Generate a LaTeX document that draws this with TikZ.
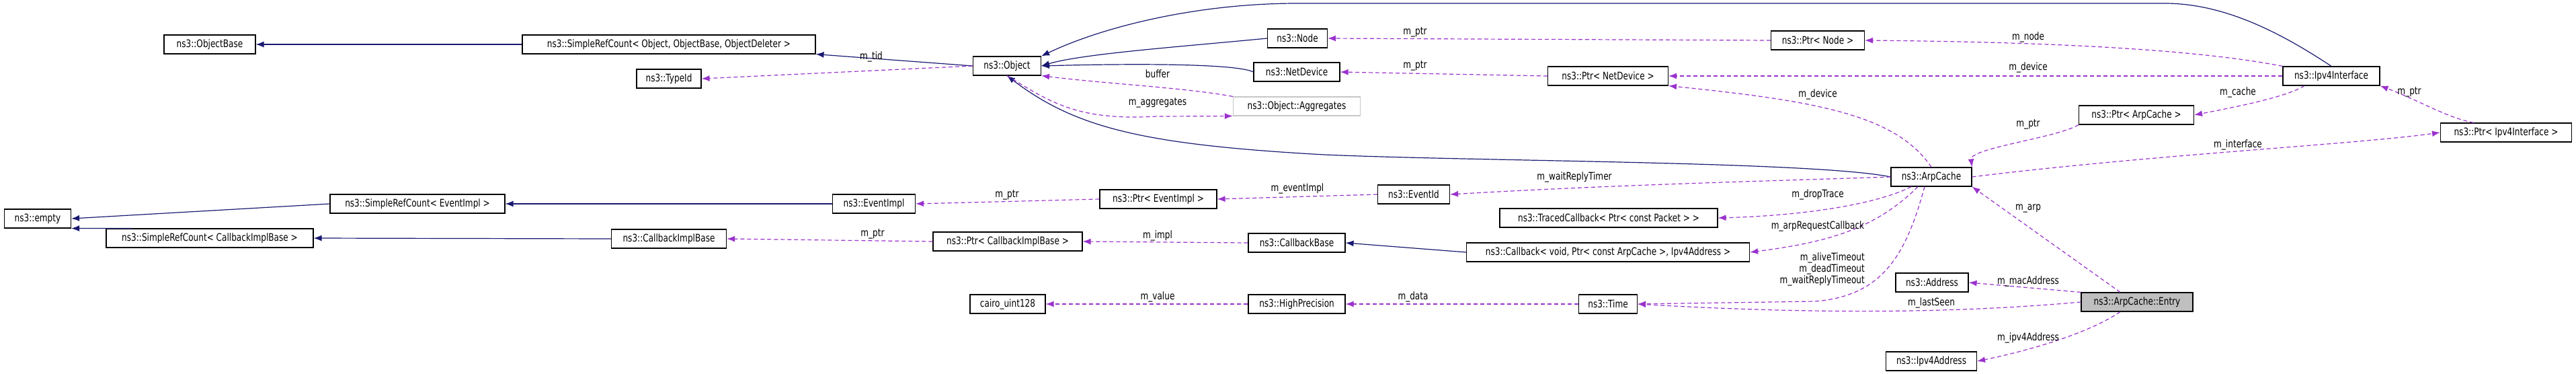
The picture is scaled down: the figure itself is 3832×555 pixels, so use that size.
\documentclass[tikz,border=0pt]{standalone}
\usepackage{fontspec}
\setmainfont{DejaVu Sans}[FakeStretch=0.78]
\usetikzlibrary{arrows.meta}
\definecolor{inh}{HTML}{191970}
\definecolor{use}{HTML}{9A32CD}
\begin{document}
\begin{tikzpicture}[x=1pt,y=-1pt,
  box/.style={draw=black,line width=1.1pt,fill=white,inner sep=0pt,minimum height=28pt,font=\fontsize{15.5}{17}\selectfont},
  gbox/.style={box,draw=black!22},
  inhe/.style={draw=inh,line width=1.2pt,-{Latex[length=12pt,width=9pt]}},
  usee/.style={draw=use,line width=1.2pt,dash pattern=on 6pt off 4pt,-{Latex[length=12pt,width=9pt]}},
  lab/.style={font=\fontsize{15.5}{17}\selectfont,inner sep=1pt}]
\useasboundingbox (0,0) rectangle (3832,555);
\node[box,minimum width=136pt] (ob) at (312,66) {ns3::ObjectBase};
\node[box,minimum width=436pt] (src) at (995,66) {ns3::SimpleRefCount< Object, ObjectBase, ObjectDeleter >};
\node[box,minimum width=96pt] (tid) at (995,117) {ns3::TypeId};
\node[box,minimum width=101pt] (obj) at (1498,98) {ns3::Object};
\node[box,minimum width=89pt] (node) at (1930,57) {ns3::Node};
\node[box,minimum width=128pt] (nd) at (1929,107) {ns3::NetDevice};
\node[gbox,minimum width=189pt] (agg) at (1929,158) {ns3::Object::Aggregates};
\node[box,minimum width=179pt] (pnd) at (2392,113) {ns3::Ptr< NetDevice >};
\node[box,minimum width=139pt] (pnode) at (2704,60) {ns3::Ptr< Node >};
\node[box,minimum width=144pt] (ipif) at (3468,113) {ns3::Ipv4Interface};
\node[box,minimum width=171pt] (pac) at (3178,171) {ns3::Ptr< ArpCache >};
\node[box,minimum width=195pt] (pipif) at (3728,197) {ns3::Ptr< Ipv4Interface >};
\node[box,minimum width=120pt] (ac) at (2873,263) {ns3::ArpCache};
\node[box,minimum width=99pt] (empty) at (56,325) {ns3::empty};
\node[box,minimum width=260pt] (srce) at (621,303) {ns3::SimpleRefCount< EventImpl >};
\node[box,minimum width=308pt] (srcc) at (312,354) {ns3::SimpleRefCount< CallbackImplBase >};
\node[box,minimum width=123pt] (ei) at (1300,303) {ns3::EventImpl};
\node[box,minimum width=171pt] (cib) at (995,355) {ns3::CallbackImplBase};
\node[box,minimum width=174pt] (pei) at (1723,296) {ns3::Ptr< EventImpl >};
\node[box,minimum width=107pt] (eid) at (2103,289) {ns3::EventId};
\node[box,minimum width=324pt] (tc) at (2393,324) {ns3::TracedCallback< Ptr< const Packet > >};
\node[box,minimum width=222pt] (pcib) at (1499,359) {ns3::Ptr< CallbackImplBase >};
\node[box,minimum width=144pt] (cb) at (1929,361) {ns3::CallbackBase};
\node[box,minimum width=421pt] (cbv) at (2392,375) {ns3::Callback< void, Ptr< const ArpCache >, Ipv4Address >};
\node[box,minimum width=112pt] (cairo) at (1499,452) {cairo\_uint128};
\node[box,minimum width=144pt] (hp) at (1929,452) {ns3::HighPrecision};
\node[box,minimum width=87pt] (time) at (2392,452) {ns3::Time};
\node[box,minimum width=108pt] (addr) at (2874,420) {ns3::Address};
\node[box,minimum width=166pt,fill=black!25] (entry) at (3179,449) {ns3::ArpCache::Entry};
\node[box,minimum width=135pt] (ip4) at (2873,537) {ns3::Ipv4Address};
% inheritance
\draw[inhe] (src.west) -- (ob.east);
\draw[inhe] (obj.west) -- (src.south east);
\draw[inhe] (node.west) .. controls (1750,70) and (1610,80) .. (obj.east);
\draw[inhe] (nd.west) .. controls (1840,95) and (1700,94) .. (obj.east);
\draw[inhe] (ipif.north) .. controls (3380,40) and (3300,5) .. (3220,5) -- (1930,5) .. controls (1780,5) and (1640,40) .. (obj.north east);
\draw[inhe] (ac.west) .. controls (2700,240) and (2200,240) .. (1970,230) .. controls (1700,215) and (1600,190) .. (obj.south);
\draw[inhe] (srce.west) -- (empty.east);
\draw[inhe] (ei.west) -- (srce.east);
\draw[inhe] (srcc.north west) ++(40,0) -- (empty.south east);
\draw[inhe] (cib.west) -- (srcc.east);
\draw[inhe] (cbv.west) -- (cb.east);
% usage
\draw[usee] (obj.west) -- (tid.east);
\node[lab] (ltid) at (1296,84) {m\_tid};
\draw[usee] (obj.south) .. controls (1560,150) and (1600,180) .. (1720,173) -- (agg.south west);
\node[lab] (la) at (1722,153) {m\_aggregates};
\draw[usee] (agg.north west) .. controls (1760,130) and (1650,125) .. (obj.south east);
\node[lab] (lb) at (1722,110) {buffer};
\draw[usee] (pnode.west) -- (node.east);
\node[lab] (l1) at (2105,48) {m\_ptr};
\draw[usee] (pnd.west) -- (nd.east);
\node[lab] (l2) at (2105,98) {m\_ptr};
\draw[usee] (ipif.north west) .. controls (3250,70) and (3000,62) .. (pnode.east);
\node[lab] (l3) at (3017,55) {m\_node};
\draw[usee] (ipif.west) -- (pnd.east);
\node[lab] (l4) at (3017,100) {m\_device};
\draw[usee] (ac.north) .. controls (2820,170) and (2700,150) .. (pnd.south east);
\node[lab] (l5) at (2704,140) {m\_device};
\draw[usee] (ipif.south) ++(-40,0) .. controls (3400,145) and (3320,160) .. (pac.east);
\node[lab] (l6) at (3329,137) {m\_cache};
\draw[usee] (pac.south west) .. controls (3060,205) and (2930,220) .. (ac.north east);
\node[lab] (l7) at (3017,185) {m\_ptr};
\draw[usee] (pipif.north west) ++(50,0) .. controls (3640,175) and (3600,150) .. (ipif.south east);
\node[lab] (l8) at (3584,137) {m\_ptr};
\draw[usee] (ac.east) .. controls (3200,230) and (3500,215) .. (pipif.west);
\node[lab] (l9) at (3329,215) {m\_interface};
\draw[usee] (ac.west) .. controls (2600,270) and (2400,275) .. (eid.east);
\node[lab] (l10) at (2342,263) {m\_waitReplyTimer};
\draw[usee] (eid.west) -- (pei.east);
\node[lab] (l11) at (1930,280) {m\_eventImpl};
\draw[usee] (pei.west) -- (ei.east);
\node[lab] (l12) at (1498,290) {m\_ptr};
\draw[usee] (ac.south) ++(-30,0) .. controls (2800,300) and (2700,320) .. (tc.east);
\node[lab] (l13) at (2704,289) {m\_dropTrace};
\draw[usee] (ac.south) ++(-20,0) .. controls (2790,340) and (2720,360) .. (cbv.east);
\node[lab] (l14) at (2704,336) {m\_arpRequestCallback};
\draw[usee] (pcib.west) -- (cib.east);
\node[lab] (l15) at (1298,348) {m\_ptr};
\draw[usee] (cb.west) -- (pcib.east);
\node[lab] (l16) at (1722,350) {m\_impl};
\draw[usee] (hp.west) -- (cairo.east);
\node[lab] (l17) at (1722,441) {m\_value};
\draw[usee] (time.west) -- (hp.east);
\node[lab] (l18) at (2102,441) {m\_data};
\draw[usee] (ac.south) ++(-10,0) .. controls (2835,380) and (2800,440) .. (2700,448) -- (time.east);
\node[lab,align=right,anchor=east] (lt) at (2775,400) {m\_aliveTimeout\\m\_deadTimeout\\m\_waitReplyTimeout};
\draw[usee] (entry.west) .. controls (2950,462) and (2750,470) .. (time.east);
\node[lab] (l19) at (2873,450) {m\_lastSeen};
\draw[usee] (entry.north west) -- (addr.east);
\node[lab] (l20) at (3017,418) {m\_macAddress};
\draw[usee] (entry.north) ++(-25,0) -- (ac.south east);
\node[lab] (l21) at (3017,310) {m\_arp};
\draw[usee] (entry.south) ++(-25,0) .. controls (3100,500) and (3000,525) .. (ip4.east);
\node[lab] (l22) at (3017,502) {m\_ipv4Address};
\end{tikzpicture}
\end{document}
